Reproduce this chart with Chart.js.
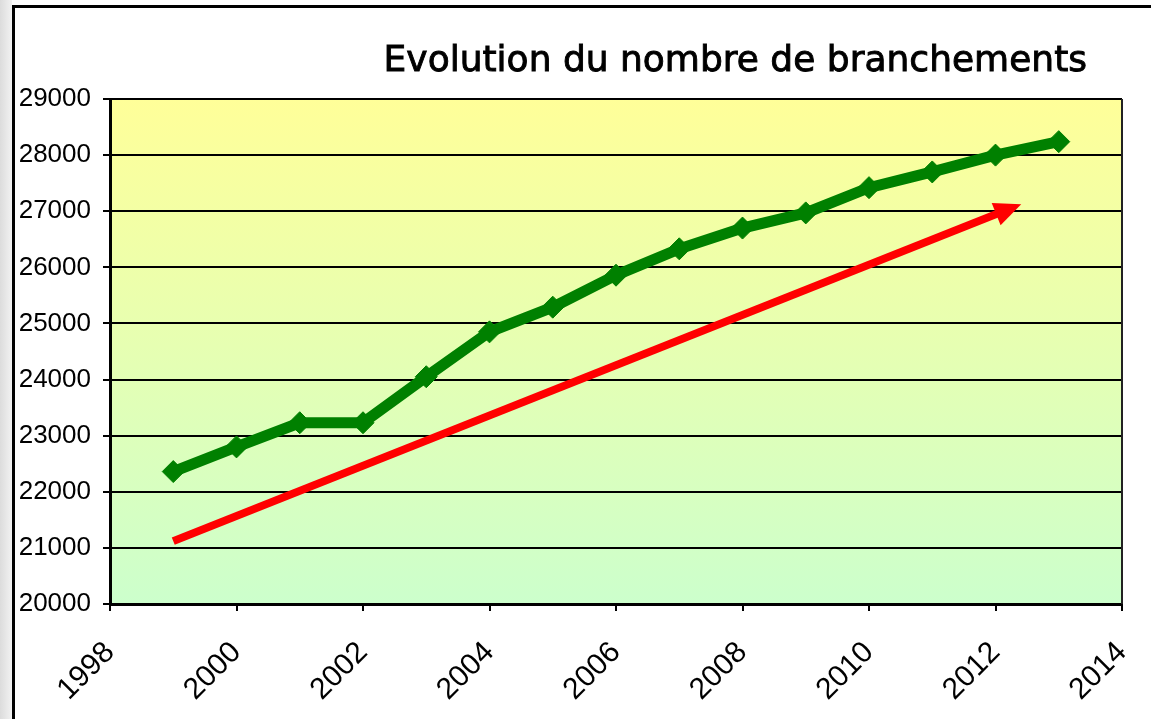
<!DOCTYPE html>
<html>
<head>
<meta charset="utf-8">
<script src="https://cdn.jsdelivr.net/npm/chart.js@4.4.0/dist/chart.umd.min.js"></script>
<style>
    html, body { margin: 0; padding: 0; }
    body {
        width: 1151px; height: 719px; overflow: hidden; position: relative;
        background: linear-gradient(to right, #dcdcdc 0px, #f2f2f2 12px, #ffffff 12px);
    }
    #frame {
        position: absolute; left: 12px; top: 5px; width: 1200px; height: 800px;
        border-left: 3px solid #000; border-top: 3px solid #000; background: #fff;
    }
    #wrap { position: absolute; left: 0; top: 0; width: 1151px; height: 719px; }
</style>
</head>
<body>
<div id="frame"></div>
<div id="wrap"><canvas id="branchChart" width="1151" height="719"></canvas></div>
<script>
// données
const years = [1999, 2000, 2001, 2002, 2003, 2004, 2005, 2006, 2007, 2008, 2009, 2010, 2011, 2012, 2013];
const branchements = [22360, 22800, 23230, 23230, 24050, 24850, 25290, 25860, 26330, 26700, 26970, 27420, 27700, 28000, 28240];

// flèche de tendance (début / fin)
const trendYears = [1999, 2012.26];
const trendValues = [21120, 27060];

const chartTitle = 'Evolution du nombre de branchements';
const xTicks = [1998, 2000, 2002, 2004, 2006, 2008, 2010, 2012, 2014];
const yMin = 20000, yMax = 29000, yStep = 1000;

const greenData = years.map((y, i) => ({ x: y, y: branchements[i] }));
const trendData = trendYears.map((y, i) => ({ x: y, y: trendValues[i] }));

// fond dégradé + cadre de la zone de tracé + titre
const decorPlugin = {
    id: 'decor',
    beforeDraw(chart) {
        const { ctx, chartArea: a } = chart;
        const g = ctx.createLinearGradient(0, a.top, 0, a.bottom);
        g.addColorStop(0, '#FFFF99');
        g.addColorStop(1, '#CCFFCC');
        ctx.save();
        ctx.fillStyle = g;
        ctx.fillRect(a.left, a.top, a.right - a.left, a.bottom - a.top);
        ctx.restore();
    },
    afterDraw(chart) {
        const { ctx, chartArea: a } = chart;
        ctx.save();
        ctx.strokeStyle = '#222';
        ctx.lineWidth = 2;
        ctx.beginPath();
        ctx.moveTo(a.right, a.top);
        ctx.lineTo(a.right, a.bottom);
        ctx.stroke();
        ctx.fillStyle = '#000';
        ctx.strokeStyle = '#000';
        ctx.lineWidth = 0.9;
        ctx.font = '36px "DejaVu Sans", sans-serif';
        ctx.textAlign = 'right';
        ctx.textBaseline = 'alphabetic';
        ctx.fillText(chartTitle, 1087, 71);
        ctx.strokeText(chartTitle, 1087, 71);
        ctx.restore();
    }
};

// pointe de flèche rouge
const arrowPlugin = {
    id: 'arrowHead',
    afterDatasetsDraw(chart) {
        const meta = chart.getDatasetMeta(1);
        const pts = meta.data;
        if (pts.length < 2) return;
        const p0 = pts[pts.length - 2], p1 = pts[pts.length - 1];
        const ang = Math.atan2(p1.y - p0.y, p1.x - p0.x);
        const len = 27, half = 12, over = 10;
        const tx = p1.x + Math.cos(ang) * over, ty = p1.y + Math.sin(ang) * over;
        const bx = tx - Math.cos(ang) * len, by = ty - Math.sin(ang) * len;
        const ctx = chart.ctx;
        ctx.save();
        ctx.fillStyle = '#FF0000';
        ctx.beginPath();
        ctx.moveTo(tx, ty);
        ctx.lineTo(bx + Math.sin(ang) * half, by - Math.cos(ang) * half);
        ctx.lineTo(bx - Math.sin(ang) * half, by + Math.cos(ang) * half);
        ctx.closePath();
        ctx.fill();
        ctx.restore();
    }
};

const yFont = { family: '"Liberation Sans", Arial, sans-serif', size: 26 };
const xFont = { family: '"Liberation Sans", Arial, sans-serif', size: 30 };

new Chart(document.getElementById('branchChart'), {
    type: 'line',
    data: {
        datasets: [
            {
                label: 'Branchements',
                data: greenData,
                borderColor: '#008000',
                backgroundColor: '#008000',
                borderWidth: 11,
                pointStyle: 'rectRot',
                pointRadius: 11,
                pointBorderWidth: 1,
                pointBackgroundColor: '#008000',
                pointBorderColor: '#008000',
                tension: 0,
                order: 0
            },
            {
                label: 'Tendance',
                data: trendData,
                borderColor: '#FF0000',
                borderWidth: 8,
                borderCapStyle: 'butt',
                pointRadius: 0,
                tension: 0,
                order: 1
            }
        ]
    },
    options: {
        responsive: false,
        animation: false,
        layout: { padding: { left: 14, right: 29, top: 99, bottom: 0 } },
        plugins: {
            legend: { display: false },
            tooltip: { enabled: false }
        },
        scales: {
            x: {
                type: 'linear',
                min: xTicks[0],
                max: xTicks[xTicks.length - 1],
                afterBuildTicks(scale) {
                    scale.ticks = xTicks.map(v => ({ value: v }));
                },
                afterFit(scale) {
                    scale.height = 115;
                    scale.paddingLeft = 0;
                    scale.paddingRight = 0;
                },
                ticks: {
                    color: '#000',
                    font: xFont,
                    minRotation: 45,
                    maxRotation: 45,
                    padding: 24,
                    autoSkip: false,
                    callback: v => String(v)
                },
                grid: {
                    drawOnChartArea: false,
                    drawTicks: true,
                    tickLength: 7,
                    tickColor: '#000',
                    lineWidth: 2
                },
                border: { color: '#000', width: 3 }
            },
            y: {
                min: yMin,
                max: yMax,
                afterFit(scale) { scale.width = 96; },
                ticks: {
                    stepSize: yStep,
                    color: '#000',
                    font: yFont,
                    padding: 12,
                    callback: v => String(v)
                },
                grid: {
                    color: '#000',
                    lineWidth: 2,
                    tickLength: 7,
                    tickColor: '#000'
                },
                border: { color: '#000', width: 3 }
            }
        }
    },
    plugins: [decorPlugin, arrowPlugin]
});
</script>
</body>
</html>
